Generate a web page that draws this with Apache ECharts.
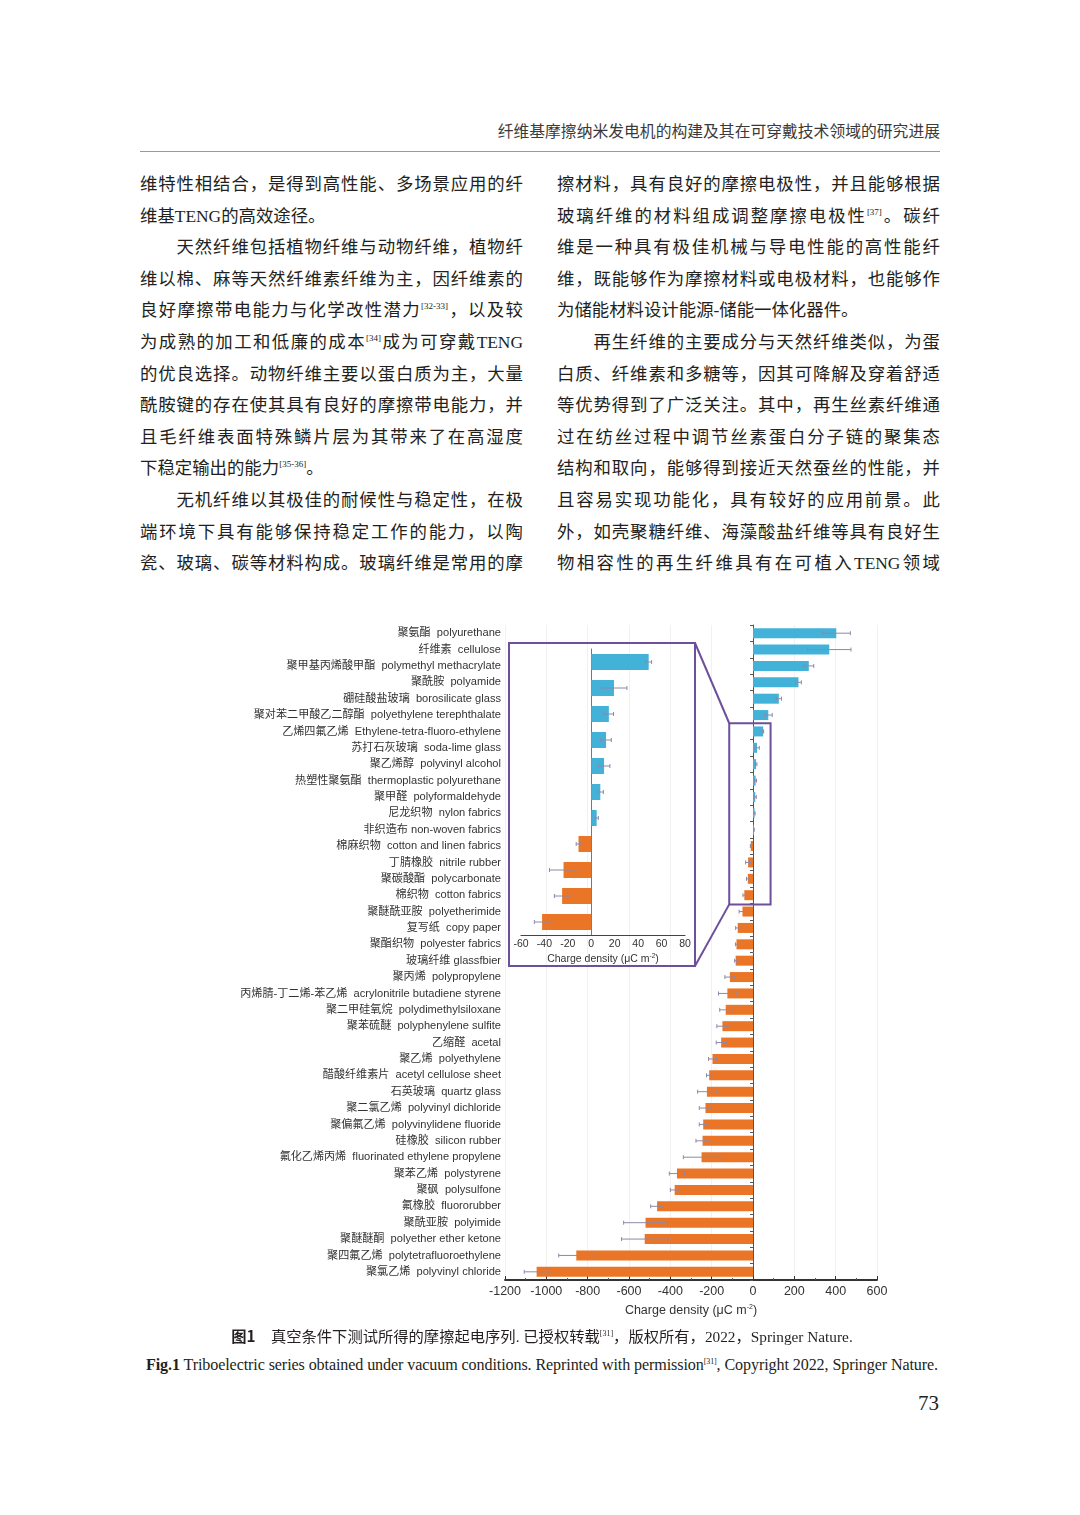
<!DOCTYPE html>
<html>
<head>
<meta charset="utf-8">
<script src="https://cdn.jsdelivr.net/npm/echarts@6/dist/echarts.min.js"></script>
<style>
  html,body{margin:0;padding:0;background:#fff;}
  body{width:1080px;height:1515px;position:relative;overflow:hidden;
       font-family:"Liberation Serif","Noto Sans CJK SC",serif;color:#231f20;}
  .hdr{position:absolute;right:140px;top:119px;font-size:15.8px;color:#3a3a3a;}
  .rule{position:absolute;left:140px;top:151px;width:800px;height:1px;background:#9a9a9a;}
  .ln{position:absolute;width:383px;height:32px;line-height:32px;font-size:17.4px;
      text-align:justify;text-align-last:justify;}
  .ln.end{text-align:left;text-align-last:left;}
  .ln sup{font-size:9px;line-height:0;vertical-align:7px;}
  .cap1{position:absolute;left:0;width:1084px;top:1324px;text-align:center;font-size:15.3px;color:#231f20;}
  .cap1 sup,.cap2 sup{font-size:8px;line-height:0;vertical-align:6px;}
  .cap2{position:absolute;left:0;width:1084px;top:1356px;text-align:center;font-size:16.1px;color:#231f20;letter-spacing:-0.1px;}
  .pg{position:absolute;left:918px;top:1391px;font-size:21px;}
  #chart{position:absolute;left:0;top:600px;width:1080px;height:725px;}
</style>
</head>
<body>
<div class="hdr">纤维基摩擦纳米发电机的构建及其在可穿戴技术领域的研究进展</div>
<div class="rule"></div>

<div id="chart"></div>

<div class="cap1"><b style="font-family:'Noto Sans CJK SC';font-weight:600">图1</b>　真空条件下测试所得的摩擦起电序列. 已授权转载<sup>[31]</sup>，版权所有，2022，Springer Nature.</div>
<div class="cap2"><b>Fig.1</b> Triboelectric series obtained under vacuum conditions. Reprinted with permission<sup>[31]</sup>, Copyright 2022, Springer Nature.</div>
<div class="pg">73</div>

<script>
// ---------------- page text ----------------
const leftLines = [
  ["维特性相结合，是得到高性能、多场景应用的纤", 0],
  ["维基TENG的高效途径。", 1],
  ["　　天然纤维包括植物纤维与动物纤维，植物纤", 0],
  ["维以棉、麻等天然纤维素纤维为主，因纤维素的", 0],
  ["良好摩擦带电能力与化学改性潜力<sup>[32-33]</sup>，以及较", 0],
  ["为成熟的加工和低廉的成本<sup>[34]</sup>成为可穿戴TENG", 0],
  ["的优良选择。动物纤维主要以蛋白质为主，大量", 0],
  ["酰胺键的存在使其具有良好的摩擦带电能力，并", 0],
  ["且毛纤维表面特殊鳞片层为其带来了在高湿度", 0],
  ["下稳定输出的能力<sup>[35-36]</sup>。", 1],
  ["　　无机纤维以其极佳的耐候性与稳定性，在极", 0],
  ["端环境下具有能够保持稳定工作的能力，以陶", 0],
  ["瓷、玻璃、碳等材料构成。玻璃纤维是常用的摩", 0]
];
const rightLines = [
  ["擦材料，具有良好的摩擦电极性，并且能够根据", 0],
  ["玻璃纤维的材料组成调整摩擦电极性<sup>[37]</sup>。碳纤", 0],
  ["维是一种具有极佳机械与导电性能的高性能纤", 0],
  ["维，既能够作为摩擦材料或电极材料，也能够作", 0],
  ["为储能材料设计能源-储能一体化器件。", 1],
  ["　　再生纤维的主要成分与天然纤维类似，为蛋", 0],
  ["白质、纤维素和多糖等，因其可降解及穿着舒适", 0],
  ["等优势得到了广泛关注。其中，再生丝素纤维通", 0],
  ["过在纺丝过程中调节丝素蛋白分子链的聚集态", 0],
  ["结构和取向，能够得到接近天然蚕丝的性能，并", 0],
  ["且容易实现功能化，具有较好的应用前景。此", 0],
  ["外，如壳聚糖纤维、海藻酸盐纤维等具有良好生", 0],
  ["物相容性的再生纤维具有在可植入TENG领域", 0]
];
function placeLines(lines, x){
  lines.forEach((l, i) => {
    const d = document.createElement('div');
    d.className = 'ln' + (l[1] ? ' end' : '');
    d.style.left = x + 'px';
    d.style.top = (168 + i * 31.6) + 'px';
    d.innerHTML = l[0];
    document.body.appendChild(d);
  });
}
placeLines(leftLines, 140);
placeLines(rightLines, 557);

// ---------------- chart data ----------------
const categories = [
  "聚氨酯  polyurethane",
  "纤维素  cellulose",
  "聚甲基丙烯酸甲酯  polymethyl methacrylate",
  "聚酰胺  polyamide",
  "硼硅酸盐玻璃  borosilicate glass",
  "聚对苯二甲酸乙二醇酯  polyethylene terephthalate",
  "乙烯四氟乙烯  Ethylene-tetra-fluoro-ethylene",
  "苏打石灰玻璃  soda-lime glass",
  "聚乙烯醇  polyvinyl alcohol",
  "热塑性聚氨酯  thermoplastic polyurethane",
  "聚甲醛  polyformaldehyde",
  "尼龙织物  nylon fabrics",
  "非织造布 non-woven fabrics",
  "棉麻织物  cotton and linen fabrics",
  "丁腈橡胶  nitrile rubber",
  "聚碳酸酯  polycarbonate",
  "棉织物  cotton fabrics",
  "聚醚酰亚胺  polyetherimide",
  "复写纸  copy paper",
  "聚酯织物  polyester fabrics",
  "玻璃纤维 glassfbier",
  "聚丙烯  polypropylene",
  "丙烯腈-丁二烯-苯乙烯  acrylonitrile butadiene styrene",
  "聚二甲硅氧烷  polydimethylsiloxane",
  "聚苯硫醚  polyphenylene sulfite",
  "乙缩醛  acetal",
  "聚乙烯  polyethylene",
  "醋酸纤维素片  acetyl cellulose sheet",
  "石英玻璃  quartz glass",
  "聚二氯乙烯  polyvinyl dichloride",
  "聚偏氟乙烯  polyvinylidene fluoride",
  "硅橡胶  silicon rubber",
  "氟化乙烯丙烯  fluorinated ethylene propylene",
  "聚苯乙烯  polystyrene",
  "聚砜  polysulfone",
  "氟橡胶  fluororubber",
  "聚酰亚胺  polyimide",
  "聚醚醚酮  polyether ether ketone",
  "聚四氟乙烯  polytetrafluoroethylene",
  "聚氯乙烯  polyvinyl chloride"
];
const chargeDensity = [
  403, 369, 270, 220, 125, 74, 49, 19.4, 15, 12.6, 10.9, 7.7, 4.6,
  -10.9, -23.7, -24.9, -42, -51, -74, -80, -84, -112, -124, -132, -148, -154,
  -196, -212, -223, -230, -241, -244, -249, -368, -379, -464, -520, -524, -855, -1047
];
const chargeError = [
  68, 105, 24, 14, 13, 19, 2.5, 11, 4, 4.5, 5, 2.6, 1.4,
  2, 12, 6.6, 6.6, 16, 10, 5, 5, 24, 43, 29, 27, 24,
  19, 13, 45, 30, 19, 32, 88, 37, 21, 31, 106, 112, 85, 60
];
// zoomed inset (rows 7-17)
const insetValues = [49, 19.4, 15, 12.6, 10.9, 7.7, 4.6, -10.9, -23.7, -24.9, -42];
const insetErrors = [2.5, 11, 4, 4.5, 5, 2.6, 1.4, 2, 12, 6.6, 6.6];
const insetStart = 6;
const insetCategories = categories.slice(insetStart, insetStart + insetValues.length);
const mainTicks = [-1200, -1000, -800, -600, -400, -200, 0, 200, 400, 600];
const insetTicks = [-60, -40, -20, 0, 20, 40, 60, 80];
const zoomBox = [-115, 85];   // x-range highlighted in main panel

const BLUE = '#42b2d9', ORANGE = '#ea7526', ERR = '#8f88a6', PURPLE = '#6d4f9c';
const FONT = 'Liberation Sans, Noto Sans CJK SC, sans-serif';

function barColor(p){ return p.value >= 0 ? BLUE : ORANGE; }
function errRender(cap){
  return function(params, api){
    const v = api.value(0), e = api.value(1), c = api.value(2);
    const a = api.coord([v - e, c]), b = api.coord([v + e, c]);
    const st = {stroke: ERR, lineWidth: 1};
    return {type: 'group', children: [
      {type: 'line', shape: {x1: a[0], y1: a[1], x2: b[0], y2: b[1]}, style: st},
      {type: 'line', shape: {x1: a[0], y1: a[1] - cap, x2: a[0], y2: a[1] + cap}, style: st},
      {type: 'line', shape: {x1: b[0], y1: b[1] - cap, x2: b[0], y2: b[1] + cap}, style: st}
    ]};
  };
}
const axisName = 'Charge density (μC m{sup|-2})';

const chart = echarts.init(document.getElementById('chart'), null, {renderer: 'canvas'});
chart.setOption({
  animation: false,
  textStyle: {fontFamily: FONT},
  grid: [
    {left: 505, right: 203, top: 25, bottom: 45},
    {left: 521, right: 395, top: 49, bottom: 390}
  ],
  xAxis: [
    {gridIndex: 0, type: 'value', min: -1200, max: 600, interval: 200,
     axisLine: {show: true, onZero: false, lineStyle: {color: '#333', width: 1.8}},
     axisTick: {show: true, inside: true, length: 4, lineStyle: {color: '#333'}},
     minorTick: {show: true, splitNumber: 2, length: 2, lineStyle: {color: '#555'}},
     splitLine: {show: true, lineStyle: {color: '#f1f1f1', width: 1}},
     axisLabel: {color: '#333', fontSize: 12.5, margin: 5, fontFamily: FONT,
                 formatter: v => mainTicks.includes(v) ? String(v) : ''},
     name: axisName, nameLocation: 'middle', nameGap: 24,
     nameTextStyle: {color: '#333', fontSize: 12.5, fontFamily: FONT,
                     rich: {sup: {fontSize: 7, verticalAlign: 'top', padding: [0, 0, 6, 0], color: '#333'}}}},
    {gridIndex: 1, type: 'value', min: -60, max: 80, interval: 20,
     axisLine: {show: true, onZero: false, lineStyle: {color: '#444', width: 1.2}},
     axisTick: {show: false},
     splitLine: {show: false},
     axisLabel: {color: '#333', fontSize: 10.5, margin: 4, fontFamily: FONT,
                 formatter: v => insetTicks.includes(v) ? String(v) : ''},
     name: axisName, nameLocation: 'middle', nameGap: 18,
     nameTextStyle: {color: '#333', fontSize: 10.5, fontFamily: FONT,
                     rich: {sup: {fontSize: 6.5, verticalAlign: 'top', padding: [0, 0, 5, 0], color: '#333'}}}}
  ],
  yAxis: [
    {gridIndex: 0, type: 'category', data: categories, inverse: true, position: 'left',
     axisLine: {show: true, onZero: true, lineStyle: {color: '#555', width: 1}},
     axisTick: {show: true, length: 3, lineStyle: {color: '#555'}},
     axisLabel: {show: false}, splitLine: {show: false}},
    {gridIndex: 0, type: 'category', data: categories, inverse: true, position: 'left',
     axisLine: {show: false}, axisTick: {show: false},
     axisLabel: {show: true, color: '#333', fontSize: 11.1, margin: 4, fontFamily: FONT}},
    {gridIndex: 1, type: 'category', data: insetCategories, inverse: true, position: 'left',
     axisLine: {show: true, onZero: true, lineStyle: {color: '#777', width: 1}},
     axisTick: {show: false}, axisLabel: {show: false}}
  ],
  series: [
    {type: 'bar', xAxisIndex: 0, yAxisIndex: 0, data: chargeDensity, barWidth: 10,
     itemStyle: {color: barColor}, z: 2},
    {type: 'custom', xAxisIndex: 0, yAxisIndex: 0, renderItem: errRender(2),
     data: chargeDensity.map((v, i) => [v, chargeError[i], i]), encode: {x: 0, y: 2}, z: 3},
    {type: 'bar', xAxisIndex: 1, yAxisIndex: 2, data: insetValues, barWidth: 16,
     itemStyle: {color: barColor}, z: 2},
    {type: 'custom', xAxisIndex: 1, yAxisIndex: 2, renderItem: errRender(2),
     data: insetValues.map((v, i) => [v, insetErrors[i], i]), encode: {x: 0, y: 2}, z: 3}
  ]
});

// zoom box + connectors (annotation positioned through the axes)
const half = 8.2;
const tl = chart.convertToPixel({xAxisIndex: 0, yAxisIndex: 0}, [zoomBox[0], insetStart]);
const br = chart.convertToPixel({xAxisIndex: 0, yAxisIndex: 0}, [zoomBox[1], insetStart + insetValues.length - 1]);
const boxTop = tl[1] - half, boxBot = br[1] + half + 1;
const inset = {x: 509, y: 43, w: 186, h: 323};
chart.setOption({
  graphic: [
    {type: 'rect', shape: {x: inset.x, y: inset.y, width: inset.w, height: inset.h},
     style: {fill: 'none', stroke: PURPLE, lineWidth: 2}, z: 10},
    {type: 'rect', shape: {x: tl[0], y: boxTop, width: br[0] - tl[0], height: boxBot - boxTop},
     style: {fill: 'none', stroke: PURPLE, lineWidth: 2}, z: 10},
    {type: 'line', shape: {x1: inset.x + inset.w, y1: inset.y, x2: tl[0], y2: boxTop},
     style: {stroke: PURPLE, lineWidth: 2}, z: 10},
    {type: 'line', shape: {x1: inset.x + inset.w, y1: inset.y + inset.h, x2: tl[0], y2: boxBot},
     style: {stroke: PURPLE, lineWidth: 2}, z: 10}
  ]
});
</script>
</body>
</html>
